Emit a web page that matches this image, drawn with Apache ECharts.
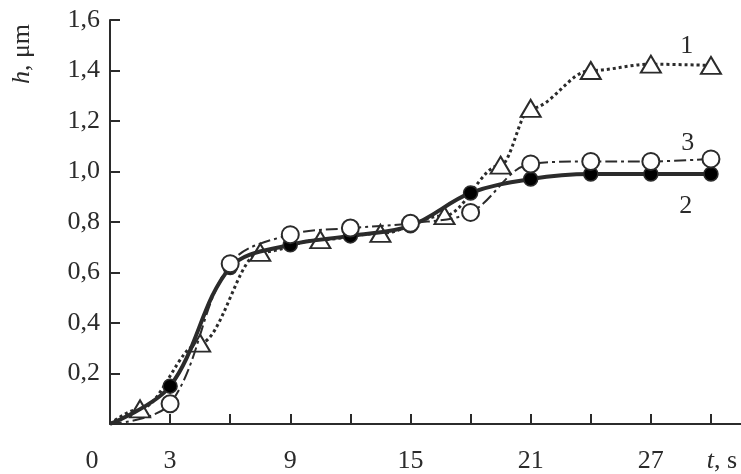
<!DOCTYPE html>
<html>
<head>
<meta charset="utf-8">
<script src="https://cdn.jsdelivr.net/npm/echarts@6/dist/echarts.min.js"></script>
<style>html,body{margin:0;padding:0;background:#fff}#c{width:741px;height:474px}</style>
</head>
<body>
<div id="c"></div>
<script>
// Curve 1 (triangles, dotted)
var t1 = [0, 1.5, 4.5, 7.5, 10.5, 13.5, 16.7, 19.5, 21, 24, 27, 30];
var h1 = [0, 0.06, 0.32, 0.68, 0.73, 0.755, 0.825, 1.025, 1.25, 1.40, 1.425, 1.42];
// Curves 2 (filled circles, solid) and 3 (open circles, dash-dot)
var t23 = [0, 3, 6, 9, 12, 15, 18, 21, 24, 27, 30];
var h2 = [0, 0.15, 0.62, 0.71, 0.745, 0.785, 0.915, 0.97, 0.99, 0.99, 0.99];
var h3 = [0, 0.08, 0.635, 0.75, 0.776, 0.795, 0.838, 1.03, 1.04, 1.04, 1.05];
var xTickLabels = {0: '0', 3: '3', 9: '9', 15: '15', 21: '21', 27: '27', 30: '{i|t}, s'};
var curveNames = ['1', '2', '3'];

var INK = '#2b2b2b';
var FONT = 'Liberation Serif';
var FS = 26;

function build(ts, hs, labelIdx, labelOffset, name) {
  return ts.map(function (t, i) {
    var item = {value: [t, hs[i]]};
    if (i === 0) item.symbol = 'none';
    if (i === labelIdx) {
      item.label = {show: true, formatter: name, offset: labelOffset, position: 'inside',
        color: INK, fontFamily: FONT, fontSize: FS};
    }
    return item;
  });
}

var chart = echarts.init(document.getElementById('c'), null, {renderer: 'canvas'});
chart.setOption({
  animation: false,
  backgroundColor: '#fff',
  grid: {left: 110, top: 20, right: -4, bottom: 44.5, containLabel: false},
  xAxis: {
    type: 'value', min: 0, max: 31.5, interval: 3,
    axisLine: {lineStyle: {color: INK, width: 2}},
    axisTick: {inside: true, length: 10, lineStyle: {color: INK, width: 2}},
    splitLine: {show: false},
    axisLabel: {
      margin: 24, color: INK, fontFamily: FONT, fontSize: FS,
      showMinLabel: true, showMaxLabel: false,
      formatter: function (v) {
        var s = xTickLabels[Math.round(v * 100) / 100];
        if (s === undefined) return '';
        if (v === 0) return '{z|0}';
        if (v === 30) return '{w|' + '}' + s;
        return s;
      },
      rich: {
        z: {padding: [0, 36, 0, 0], fontFamily: FONT, fontSize: FS, color: INK},
        i: {fontStyle: 'italic', fontFamily: FONT, fontSize: FS, color: INK},
        w: {width: 22}
      }
    }
  },
  yAxis: {
    type: 'value', min: 0, max: 1.6, interval: 0.2,
    axisLine: {lineStyle: {color: INK, width: 2}},
    axisTick: {inside: true, length: 10, lineStyle: {color: INK, width: 2}},
    splitLine: {show: false},
    axisLabel: {
      margin: 10, color: INK, fontFamily: FONT, fontSize: FS,
      formatter: function (v) { return v === 0 ? '' : v.toFixed(1).replace('.', ','); }
    }
  },
  graphic: [{
    type: 'text', x: 22, y: 54, rotation: Math.PI / 2,
    style: {
      text: '{i|h}, μm', align: 'center', verticalAlign: 'middle',
      fill: INK, font: FS + 'px "Liberation Serif"',
      rich: {i: {fontStyle: 'italic', fontFamily: FONT, fontSize: FS, fill: INK}}
    }
  }],
  series: [
    {
      name: curveNames[0], type: 'line', smooth: 0.35, smoothMonotone: 'x', z: 1,
      data: build(t1, h1, 10, [36, -18], curveNames[0]),
      lineStyle: {color: INK, width: 3, type: [3, 3]},
      symbol: 'triangle', symbolSize: [20, 17],
      itemStyle: {color: '#fff', borderColor: INK, borderWidth: 2}
    },
    {
      name: curveNames[1], type: 'line', smooth: 0.35, z: 2,
      data: build(t23, h2, 9, [35, 32], curveNames[1]),
      lineStyle: {color: INK, width: 4},
      symbol: 'circle', symbolSize: 14,
      itemStyle: {color: '#000', borderColor: INK, borderWidth: 1.5}
    },
    {
      name: curveNames[2], type: 'line', smooth: 0.35, z: 3,
      data: build(t23, h3, 9, [37, -18], curveNames[2]),
      lineStyle: {color: INK, width: 2, type: [12, 4, 3, 4]},
      symbol: 'circle', symbolSize: 17,
      itemStyle: {color: '#fff', borderColor: INK, borderWidth: 2}
    }
  ]
});
</script>
</body>
</html>
